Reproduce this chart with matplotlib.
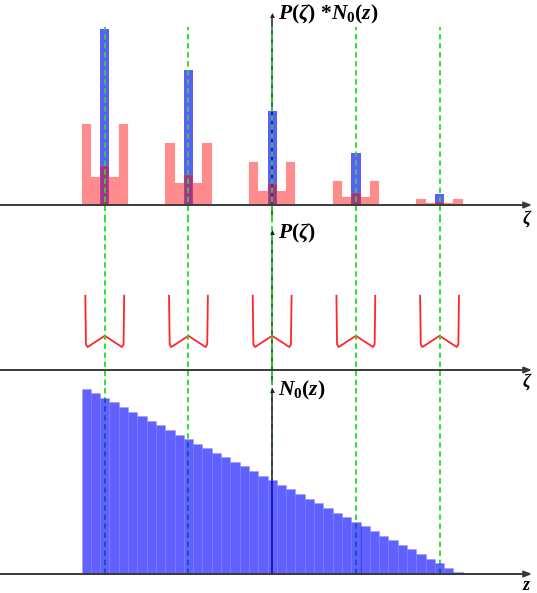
import matplotlib
matplotlib.use("Agg")
import matplotlib.pyplot as plt
import numpy as np

plt.rcParams['mathtext.fontset'] = 'custom'
plt.rcParams['mathtext.rm'] = 'Liberation Serif:bold'
plt.rcParams['mathtext.it'] = 'Liberation Serif:italic:bold'
plt.rcParams['mathtext.bf'] = 'Liberation Serif:bold'

# N0(z): population per z bin (bottom panel)
n0_counts = [41.2, 40.2, 39.2, 38.2, 37.2, 36.1, 35.1, 34.1, 33.1, 32.0,
             31.0, 30.0, 29.0, 27.9, 26.9, 25.9, 24.9, 23.9, 22.8, 21.8,
             20.8, 19.8, 18.8, 17.7, 16.7, 15.7, 14.7, 13.6, 12.6, 11.6,
             10.6, 9.6, 8.5, 7.5, 6.5, 5.5, 4.4, 3.4, 2.4, 1.4, 0.4]

# bins where the kernel P(zeta) is placed
sample_bins = [2, 11, 20, 29, 38]

# P(zeta)*N0(z) around each sampled bin: offsets -2/+2, -1/+1 and 0
prod_outer = [17.9, 13.7, 9.5, 5.4, 1.3]
prod_inner = [6.2, 4.8, 3.2, 1.8, 0.5]
prod_center = [8.7, 6.7, 4.7, 2.6, 0.7]

# P(zeta) curve: offset from bin centre (in bins) and value
p_offsets = [-2.09, -2.02, -1.85, 0.0, 1.85, 2.02, 2.09]
p_values = [16.5, 5.7, 5.1, 7.6, 5.1, 5.7, 16.5]

label_top = r'$P(\zeta)\ {*}N_0(z)$'
label_mid = r'$P(\zeta)$'
label_bot = r'$N_0(z)$'
label_zeta = r'$\zeta$'
label_z = r'$z$'

W, H = 537, 593
PX_BIN = 9.3
LEFT_PX = 81.5
PX_UNIT = 4.5

fig = plt.figure(figsize=(W / 100, H / 100), dpi=100)
fig.patch.set_facecolor('white')

xlim = (-LEFT_PX / PX_BIN, (W - LEFT_PX) / PX_BIN)
arrow_x = (532 - LEFT_PX) / PX_BIN
label_x = (527 - LEFT_PX) / PX_BIN


def add_panel(top_px, bottom_px, base_px):
    ax = fig.add_axes([0, 1 - bottom_px / H, 1, (bottom_px - top_px) / H])
    ax.set_xlim(*xlim)
    ax.set_ylim(-(bottom_px - base_px) / PX_UNIT, (base_px - top_px) / PX_UNIT)
    ax.axis('off')
    return ax


ax_top = add_panel(0, 220, 205)
ax_mid = add_panel(220, 385, 370)
ax_bot = add_panel(385, 593, 574)

centres = np.array(sample_bins) + 0.5
axis_x = centres[2]

AX_COL = '#3a3a3a'
GREEN = '#22dd22'
BLUE = '#0000ff'
RED = '#ff0000'


def baseline(ax):
    ax.annotate('', xy=(arrow_x, 0), xytext=(xlim[0], 0),
                arrowprops=dict(arrowstyle='-|>,head_length=0.45,head_width=0.18',
                                color=AX_COL, lw=1.4, shrinkA=0, shrinkB=0),
                zorder=6, annotation_clip=False)


def vaxis(ax, y0, y1):
    ax.plot([axis_x, axis_x], [y0, y1], color='#222222', lw=1.1, zorder=1,
            solid_capstyle='butt')
    ax.plot([axis_x], [y1], marker='^', ms=3.5, color='#222222', zorder=7,
            markeredgewidth=0)


def greens(ax, y0, y1, z):
    for c in centres:
        ax.plot([c, c], [y0, y1], color=GREEN, lw=1.3, dashes=(3, 2), zorder=z)


# ---- top panel: P(zeta) * N0(z)
y_lo, y_hi = ax_top.get_ylim()
blue_top = [n0_counts[b] for b in sample_bins]
ax_top.bar(centres, blue_top, width=1.0, color=BLUE, alpha=0.64, lw=0, zorder=2)
for k, c in enumerate(centres):
    offs = np.array([-2, -1, 0, 1, 2])
    vals = [prod_outer[k], prod_inner[k], prod_center[k], prod_inner[k], prod_outer[k]]
    ax_top.bar(c + offs, vals, width=1.0, color=RED, alpha=0.45, lw=0.3,
               edgecolor='#ff9a9a', zorder=3)
greens(ax_top, y_lo, max(blue_top) + 0.3, 5)
vaxis(ax_top, y_lo, (205 - 15) / PX_UNIT)
baseline(ax_top)
ax_top.text(axis_x + 0.6, (205 - 14) / PX_UNIT, label_top, fontsize=15.5,
            ha='left', va='center', zorder=8)
ax_top.text(label_x, -3.0, label_zeta, fontsize=13, ha='center', va='center',
            clip_on=False)

# ---- middle panel: P(zeta)
y_lo, y_hi = ax_mid.get_ylim()
for c in centres:
    ax_mid.plot(c + np.array(p_offsets), p_values, color=RED, lw=1.3, alpha=0.85,
                zorder=3, solid_joinstyle='round')
greens(ax_mid, y_lo, y_hi, 5)
vaxis(ax_mid, y_lo, (370 - 232) / PX_UNIT)
baseline(ax_mid)
ax_mid.text(axis_x + 0.6, (370 - 233) / PX_UNIT, label_mid, fontsize=15.5,
            ha='left', va='center', zorder=8)
ax_mid.text(label_x, -2.6, label_zeta, fontsize=13, ha='center', va='center',
            clip_on=False)

# ---- bottom panel: N0(z)
y_lo, y_hi = ax_bot.get_ylim()
greens(ax_bot, 0, y_hi, 1)
vaxis(ax_bot, 0, (574 - 390) / PX_UNIT)
ax_bot.bar(np.arange(len(n0_counts)) + 0.5, n0_counts, width=1.0, color=BLUE,
           alpha=0.62, edgecolor='#8c8cff', lw=0.4, zorder=3)
baseline(ax_bot)
ax_bot.text(axis_x + 0.6, (574 - 390) / PX_UNIT, label_bot, fontsize=15.5,
            ha='left', va='center', zorder=8)
ax_bot.text(label_x, -2.4, label_z, fontsize=13, ha='center', va='center',
            clip_on=False)

fig.savefig('out.png', dpi=100, facecolor='white')
